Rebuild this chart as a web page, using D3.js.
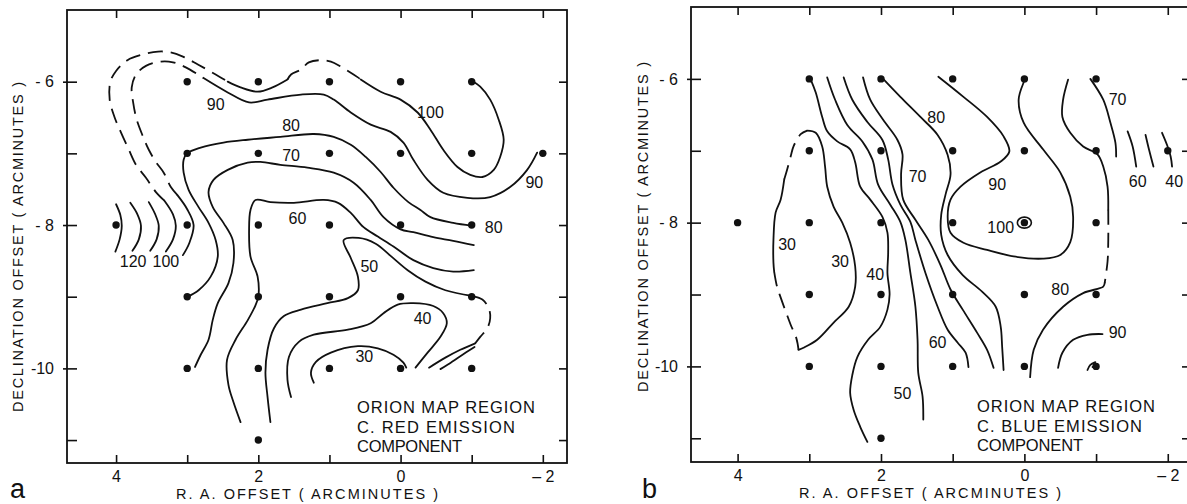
<!DOCTYPE html>
<html>
<head>
<meta charset="utf-8">
<script src="https://cdn.jsdelivr.net/npm/d3@7"></script>
<style>
  body { margin: 0; background: #fff; }
  svg { display: block; }
  text { font-family: "Liberation Sans", Arial, sans-serif; fill: #111; }
</style>
</head>
<body>
<script>
// observed grid positions (RA offset, Dec offset), same for both maps
const samplePoints = [
  [3,-6],[2,-6],[1,-6],[0,-6],[-1,-6],
  [3,-7],[2,-7],[1,-7],[0,-7],[-1,-7],[-2,-7],
  [4,-8],[3,-8],[2,-8],[1,-8],[0,-8],[-1,-8],
  [3,-9],[2,-9],[1,-9],[0,-9],[-1,-9],
  [3,-10],[2,-10],[1,-10],[0,-10],[-1,-10],
  [2,-11]
];

const raTicks = [4, 3, 2, 1, 0, -1, -2];
const raTickLabels = ["4", "", "2", "", "0", "", "\u2013 2"];
const decTicks = [-6, -7, -8, -9, -10, -11];
const decTickLabels = ["- 6", "", "- 8", "", "-10", ""];

// ---- map a : red emission component ----
const solidA = [
  [[4.0,-7.71],[3.94,-7.86],[3.92,-8.01],[3.95,-8.2],[4.01,-8.37]],
  [[3.8,-7.69],[3.7,-7.85],[3.65,-8.01],[3.68,-8.2],[3.77,-8.36]],
  [[3.54,-7.68],[3.45,-7.85],[3.40,-8.01],[3.43,-8.2],[3.52,-8.36]],
  [[3.32,-7.66],[3.2,-7.85],[3.16,-8.01],[3.2,-8.2],[3.30,-8.37]],
  [[3.14,-7.58],[3.0,-7.78],[2.91,-8.0],[2.97,-8.25],[3.06,-8.42]],
  [[2.43,-6.0],[2.25,-6.08],[2.01,-6.14],[1.80,-6.08],[1.59,-5.97]],
  [[0.56,-5.97],[0.28,-6.14],[0.0,-6.25],[-0.24,-6.43],[-0.42,-6.67],[-0.60,-6.95],[-0.80,-7.19],[-0.98,-7.30],[-1.15,-7.33],[-1.31,-7.23],[-1.40,-7.05],[-1.45,-6.81],[-1.38,-6.53],[-1.26,-6.25],[-1.12,-6.07],[-1.01,-5.99]],
  [[2.77,-5.95],[2.43,-6.15],[2.13,-6.29],[1.87,-6.25],[1.40,-6.18],[1.08,-6.18],[0.94,-6.25],[0.70,-6.43],[0.42,-6.60],[0.14,-6.70],[-0.04,-6.85],[-0.18,-7.09],[-0.38,-7.37],[-0.60,-7.55],[-0.94,-7.62],[-1.26,-7.61],[-1.54,-7.47],[-1.78,-7.23],[-1.92,-6.99]],
  [[2.99,-9.0],[2.84,-8.91],[2.67,-8.72],[2.57,-8.44],[2.60,-8.21],[2.70,-7.97],[2.84,-7.75],[2.98,-7.51],[3.05,-7.27],[3.05,-7.09],[3.0,-7.0],[2.81,-6.92],[2.49,-6.85],[2.15,-6.81],[1.69,-6.77],[1.22,-6.73],[0.94,-6.77],[0.70,-6.88],[0.49,-7.05],[0.28,-7.26],[0.10,-7.48],[-0.11,-7.68],[-0.28,-7.79],[-0.42,-7.89],[-0.74,-7.97],[-1.0,-8.01]],
  [[-1.03,-8.28],[-0.74,-8.22],[-0.46,-8.17],[-0.18,-8.10],[0.0,-8.06],[0.24,-7.89],[0.42,-7.65],[0.66,-7.41],[0.94,-7.27],[1.31,-7.20],[1.69,-7.16],[1.97,-7.12],[2.15,-7.13],[2.43,-7.23],[2.63,-7.37],[2.70,-7.54],[2.64,-7.75],[2.49,-7.97],[2.36,-8.21],[2.35,-8.53],[2.42,-8.81],[2.57,-9.09],[2.64,-9.32],[2.70,-9.60],[2.81,-9.81],[2.89,-9.98]],
  [[-1.03,-8.63],[-0.74,-8.65],[-0.46,-8.60],[-0.18,-8.49],[0.10,-8.30],[0.32,-8.16],[0.52,-8.03],[0.70,-7.83],[0.88,-7.69],[1.08,-7.65],[1.50,-7.69],[1.83,-7.68],[2.04,-7.65],[2.11,-7.79],[2.13,-8.07],[2.11,-8.44],[2.01,-8.72],[2.0,-9.0],[2.04,-9.12],[2.15,-9.33],[2.32,-9.60],[2.44,-9.88],[2.42,-10.23],[2.35,-10.47],[2.25,-10.75]],
  [[-1.01,-8.99],[-0.63,-8.91],[-0.35,-8.79],[-0.10,-8.63],[0.14,-8.43],[0.35,-8.26],[0.59,-8.18],[0.80,-8.21],[0.70,-8.46],[0.60,-8.72],[0.60,-8.91],[0.74,-9.02],[1.03,-9.09],[1.40,-9.18],[1.64,-9.27],[1.78,-9.44],[1.87,-9.74],[1.90,-10.06],[1.87,-10.40],[1.83,-10.75]],
  [[1.54,-10.40],[1.59,-10.16],[1.57,-9.84],[1.43,-9.63],[1.22,-9.53],[0.74,-9.46],[0.42,-9.37],[0.24,-9.23],[0.04,-9.11],[-0.18,-9.09],[-0.46,-9.13],[-0.60,-9.23],[-0.65,-9.37],[-0.56,-9.56],[-0.38,-9.78],[-0.21,-9.99]],
  [[1.22,-10.20],[1.26,-10.06],[1.19,-9.91],[0.98,-9.78],[0.60,-9.69],[0.32,-9.72],[0.10,-9.81],[-0.04,-9.92],[-0.08,-9.99]],
  [[-1.05,-9.65],[-0.84,-9.74],[-0.63,-9.85],[-0.40,-9.99]],
  [[-1.04,-9.70],[-0.84,-9.83],[-0.66,-9.95],[-0.56,-10.01]]
];
const dashedA = [
  [[3.32,-7.66],[3.44,-7.54],[3.58,-7.34],[3.72,-7.16],[3.82,-6.95],[3.93,-6.71],[4.02,-6.50],[4.09,-6.25],[4.08,-6.0],[4.0,-5.85],[3.84,-5.70],[3.62,-5.62],[3.41,-5.58],[3.24,-5.59],[3.06,-5.65],[2.85,-5.76],[2.60,-5.90],[2.43,-6.0]],
  [[1.59,-5.97],[1.54,-5.90],[1.40,-5.83],[1.29,-5.73],[1.12,-5.70],[0.98,-5.72],[0.84,-5.79],[0.60,-5.94],[0.56,-5.97]],
  [[3.14,-7.58],[3.23,-7.47],[3.33,-7.27],[3.44,-7.12],[3.54,-6.95],[3.62,-6.77],[3.71,-6.53],[3.76,-6.29],[3.78,-6.08],[3.72,-5.90],[3.58,-5.78],[3.37,-5.72],[3.20,-5.73],[3.02,-5.80],[2.77,-5.95]],
  [[-1.03,-9.0],[-1.15,-9.04],[-1.24,-9.16],[-1.26,-9.30],[-1.22,-9.44],[-1.12,-9.56],[-1.05,-9.65]]
];
const levelLabelsA = [
  ["90",2.60,-6.32],["80",1.54,-6.61],["70",1.54,-7.02],["60",1.45,-7.90],
  ["50",0.44,-8.58],["40",-0.31,-9.30],["30",0.51,-9.83],["100",-0.42,-6.43],
  ["90",-1.88,-7.40],["80",-1.31,-8.03],["120",3.76,-8.50],["100",3.30,-8.50]
];

// ---- map b : blue emission component ----
const solidB = [
  [[3.03,-6.72],[2.91,-6.75],[2.82,-6.94],[2.78,-7.22],[2.75,-7.50],[2.66,-7.78],[2.54,-8.00],[2.43,-8.28],[2.36,-8.61],[2.36,-8.89],[2.45,-9.17],[2.66,-9.39],[2.89,-9.63],[3.08,-9.74],[3.15,-9.77]],
  [[3.35,-7.40],[3.40,-7.68],[3.47,-7.86],[3.50,-8.24],[3.50,-8.56],[3.49,-8.68]],
  [[2.98,-6.01],[2.91,-6.19],[2.82,-6.53],[2.75,-6.73],[2.61,-6.87],[2.43,-6.98],[2.36,-7.16],[2.29,-7.50],[2.15,-7.68],[1.98,-7.92],[1.91,-8.14],[1.90,-8.42],[1.91,-8.70],[1.88,-9.0],[1.91,-9.21],[2.01,-9.45],[2.18,-9.63],[2.33,-9.87],[2.40,-10.12],[2.43,-10.37],[2.38,-10.61],[2.29,-10.84],[2.19,-11.05]],
  [[2.75,-5.98],[2.64,-6.29],[2.47,-6.64],[2.26,-6.87],[2.12,-7.12],[2.04,-7.47],[1.87,-7.75],[1.73,-7.99],[1.66,-8.24],[1.59,-8.70],[1.52,-9.17],[1.49,-9.63],[1.48,-10.09],[1.42,-10.42],[1.41,-10.74]],
  [[2.52,-5.98],[2.40,-6.29],[2.19,-6.60],[1.98,-6.85],[1.90,-7.12],[1.84,-7.47],[1.73,-7.75],[1.59,-7.99],[1.52,-8.24],[1.38,-8.70],[1.21,-9.17],[1.07,-9.49],[0.93,-9.67],[0.82,-9.81],[0.78,-10.01]],
  [[2.25,-5.98],[2.15,-6.29],[1.97,-6.57],[1.77,-6.85],[1.70,-7.05],[1.72,-7.33],[1.69,-7.68],[1.52,-7.96],[1.34,-8.24],[1.17,-8.59],[1.03,-8.93],[0.86,-9.21],[0.66,-9.53],[0.52,-9.77],[0.43,-10.02]],
  [[1.97,-6.0],[1.73,-6.25],[1.45,-6.53],[1.21,-6.78],[1.07,-7.06],[1.03,-7.33],[1.10,-7.61],[1.16,-7.89],[1.16,-8.17],[1.07,-8.45],[0.86,-8.73],[0.59,-8.96],[0.40,-9.17],[0.33,-9.45],[0.31,-9.73],[0.29,-10.05]],
  [[1.20,-5.97],[0.85,-6.25],[0.52,-6.53],[0.29,-6.80],[0.21,-7.01],[0.33,-7.15],[0.61,-7.30],[0.89,-7.50],[1.03,-7.68],[1.07,-7.92],[1.03,-8.14],[0.85,-8.28],[0.52,-8.38],[0.15,-8.47],[-0.26,-8.50],[-0.50,-8.45],[-0.64,-8.27],[-0.68,-7.92],[-0.64,-7.64],[-0.50,-7.30],[-0.26,-6.98],[0.01,-6.61],[0.08,-6.29],[0.01,-6.05],[-0.01,-6.01]],
  [[-0.61,-6.01],[-0.54,-6.29],[-0.53,-6.53],[-0.64,-6.75],[-0.82,-6.94],[-1.02,-7.05],[-1.10,-7.22],[-1.16,-7.50],[-1.17,-7.82]],
  [[-1.12,-8.84],[-1.10,-8.89],[-0.82,-8.98],[-0.54,-9.17],[-0.26,-9.49],[-0.13,-9.77],[-0.08,-10.15]],
  [[-0.92,-6.0],[-1.10,-6.29],[-1.20,-6.61],[-1.27,-6.89],[-1.28,-7.08]],
  [[-1.44,-6.73],[-1.51,-6.94],[-1.56,-7.22]],
  [[-1.69,-6.78],[-1.74,-6.99],[-1.80,-7.22]],
  [[-1.92,-6.75],[-1.99,-6.92],[-2.04,-7.08],[-2.06,-7.22]],
  [[-0.47,-10.02],[-0.53,-9.81],[-0.68,-9.63],[-0.88,-9.56],[-1.09,-9.55]],
  [[-0.88,-10.05],[-0.92,-9.98],[-0.99,-9.94]],
  [[-0.95,-10.01],[-1.02,-9.97]]
];
const dashedB = [
  [[3.35,-7.40],[3.32,-7.30],[3.26,-7.08],[3.22,-6.94],[3.12,-6.77],[3.03,-6.72]],
  [[3.49,-8.68],[3.45,-8.89],[3.40,-9.04],[3.32,-9.26],[3.26,-9.42],[3.18,-9.61],[3.15,-9.77]],
  [[-1.17,-7.82],[-1.17,-8.24],[-1.16,-8.54],[-1.12,-8.84]]
];
const levelLabelsB = [
  ["80",1.23,-6.54],["70",1.49,-7.36],["90",0.38,-7.47],["100",0.33,-8.06],
  ["30",3.31,-8.30],["30",2.57,-8.54],["40",2.08,-8.72],["60",1.21,-9.67],
  ["50",1.70,-10.37],["80",-0.50,-8.92],["90",-1.30,-9.53],["70",-1.30,-6.29],
  ["60",-1.58,-7.43],["40",-2.09,-7.43]
];
const peakB = [0, -8];

const captionA = ["ORION  MAP  REGION", "C. RED  EMISSION", "COMPONENT"];
const captionB = ["ORION  MAP  REGION", "C. BLUE  EMISSION", "COMPONENT"];

const W = 1187, H = 504;
const svg = d3.select("body").append("svg").attr("width", W).attr("height", H);

function drawPanel(opt) {
  const x = d3.scaleLinear().domain(opt.raDomain).range([opt.left, opt.right]);
  const y = d3.scaleLinear().domain(opt.decDomain).range([opt.top, opt.bottom]);
  const g = svg.append("g");
  const ink = "#111";

  // axes, ticks pointing inward
  const bottom = g.append("g").attr("transform", `translate(0,${opt.bottom})`)
    .call(d3.axisBottom(x).tickValues(raTicks).tickSizeInner(-8).tickSizeOuter(0).tickPadding(8)
      .tickFormat((d, i) => raTickLabels[i]));
  const top = g.append("g").attr("transform", `translate(0,${opt.top})`)
    .call(d3.axisTop(x).tickValues(raTicks).tickSizeInner(-8).tickSizeOuter(0).tickFormat(""));
  const left = g.append("g").attr("transform", `translate(${opt.left},0)`)
    .call(d3.axisLeft(y).tickValues(decTicks).tickSizeInner(-10).tickSizeOuter(0).tickPadding(13)
      .tickFormat((d, i) => decTickLabels[i]));
  const right = g.append("g").attr("transform", `translate(${opt.right},0)`)
    .call(d3.axisRight(y).tickValues(decTicks).tickSizeInner(-8).tickSizeOuter(0).tickFormat(""));
  [bottom, top, left, right].forEach(a => {
    a.select(".domain").remove();
    a.selectAll("line").attr("stroke", ink).attr("stroke-width", 1.6);
    a.selectAll("text").attr("font-size", 16).attr("fill", ink)
      .style("font-family", '"Liberation Sans", Arial, sans-serif');
  });
  left.selectAll(".tick").filter((d, i) => decTickLabels[i] !== "")
    .select("line").attr("x1", -4);

  g.append("rect")
    .attr("x", opt.left).attr("y", opt.top)
    .attr("width", opt.right - opt.left).attr("height", opt.bottom - opt.top)
    .attr("fill", "none").attr("stroke", ink).attr("stroke-width", 1.8);

  const line = d3.line().x(d => x(d[0])).y(d => y(d[1])).curve(d3.curveCatmullRom.alpha(0.5));

  g.append("g").selectAll("path").data(opt.solid).join("path")
    .attr("d", line).attr("fill", "none").attr("stroke", ink)
    .attr("stroke-width", 1.8).attr("stroke-linecap", "round");
  g.append("g").selectAll("path").data(opt.dashed).join("path")
    .attr("d", line).attr("fill", "none").attr("stroke", ink)
    .attr("stroke-width", 1.8).attr("stroke-dasharray", "15,8");

  g.append("g").selectAll("circle").data(samplePoints).join("circle")
    .attr("cx", d => x(d[0])).attr("cy", d => y(d[1])).attr("r", 3.7).attr("fill", ink);

  if (opt.peak) {
    g.append("ellipse").attr("cx", x(opt.peak[0])).attr("cy", y(opt.peak[1]))
      .attr("rx", 7).attr("ry", 5.5).attr("fill", "none").attr("stroke", ink).attr("stroke-width", 1.6);
  }

  g.append("g").selectAll("text").data(opt.levels).join("text")
    .attr("x", d => x(d[1])).attr("y", d => y(d[2]))
    .attr("text-anchor", "middle").attr("dy", "0.36em")
    .attr("font-size", 16).text(d => d[0]);

  // caption block
  opt.caption.forEach((t, i) => {
    g.append("text").attr("x", opt.capX).attr("y", opt.capY + i * 19.5)
      .attr("font-size", 16.5).attr("textLength", opt.capLen[i]).attr("lengthAdjust", "spacing")
      .text(t);
  });

  // axis titles
  g.append("text").attr("x", opt.xtX).attr("y", opt.bottom + 36)
    .attr("text-anchor", "middle").attr("font-size", 14.5)
    .attr("textLength", 262).attr("lengthAdjust", "spacing")
    .text("R. A.   OFFSET   ( ARCMINUTES )");
  g.append("text")
    .attr("transform", `translate(${opt.ytX},${opt.ytY}) rotate(-90)`)
    .attr("text-anchor", "middle").attr("font-size", 14.5)
    .attr("textLength", 330).attr("lengthAdjust", "spacing")
    .text("DECLINATION   OFFSET  ( ARCMINUTES )");

  g.append("text").attr("x", opt.tagX).attr("y", 498).attr("font-size", 27).text(opt.tag);
}

drawPanel({
  left: 67, right: 567, top: 10, bottom: 463,
  raDomain: [4.69, -2.34], decDomain: [-5.0, -11.32],
  solid: solidA, dashed: dashedA, levels: levelLabelsA,
  caption: captionA, capX: 357, capY: 413, capLen: [178, 158, 105],
  xtX: 307, ytX: 23, ytY: 247, tag: "a", tagX: 10
});
drawPanel({
  left: 691, right: 1190, top: 7, bottom: 462,
  raDomain: [4.65, -2.31], decDomain: [-5.0, -11.33],
  solid: solidB, dashed: dashedB, levels: levelLabelsB, peak: peakB,
  caption: captionB, capX: 977, capY: 412, capLen: [178, 165, 106],
  xtX: 930, ytX: 648, ytY: 227, tag: "b", tagX: 642
});
</script>
</body>
</html>
